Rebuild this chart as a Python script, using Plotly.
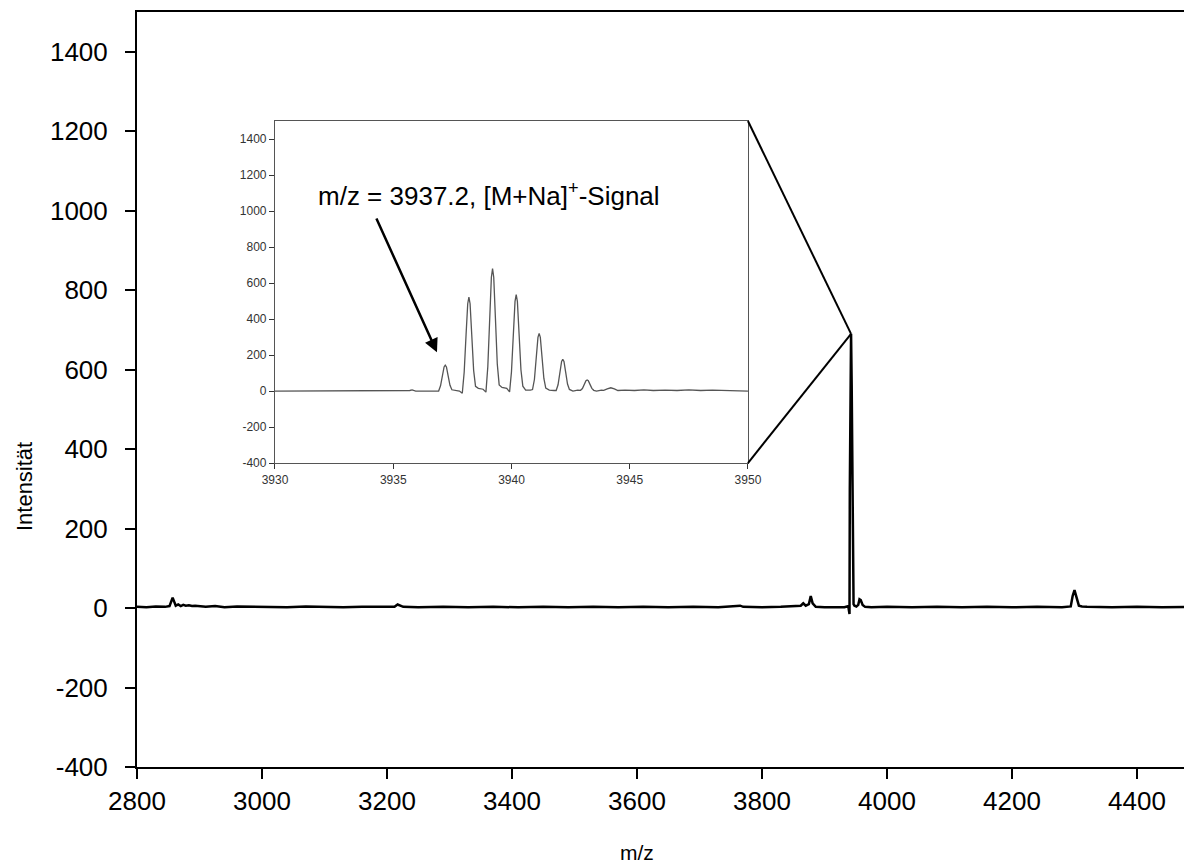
import plotly.graph_objects as go

# ---- main spectrum (m/z vs intensity) ----
mz_main = [2800, 2815, 2830, 2845, 2852, 2855, 2857, 2859, 2862, 2866, 2870, 2874, 2878,
           2883, 2888, 2893, 2900, 2910, 2925, 2940, 2960, 2985, 3010, 3040, 3070, 3100,
           3130, 3160, 3190, 3212, 3217, 3220, 3226, 3250, 3290, 3330, 3370, 3410, 3450,
           3490, 3530, 3570, 3610, 3650, 3690, 3730, 3760, 3765, 3770, 3800, 3830, 3850,
           3862, 3866, 3870, 3875, 3878, 3881, 3886, 3900, 3920, 3932, 3938, 3940, 3940.5,
           3941, 3942.5, 3943.5, 3944.5, 3945.5, 3946.5, 3948, 3951, 3954, 3956, 3958, 3961,
           3965, 3975, 4000, 4040, 4080, 4120, 4160, 4200, 4240, 4280, 4294, 4297, 4300,
           4303, 4307, 4312, 4320, 4360, 4400, 4440, 4488]
int_main = [3, 2, 4, 3, 5, 20, 26, 18, 6, 9, 5, 8, 6,
            7, 5, 6, 4, 3, 5, 2, 4, 3, 3, 2, 4, 3,
            2, 3, 2, 3, 9, 7, 3, 2, 3, 2, 3, 2, 3,
            2, 3, 2, 3, 2, 3, 2, 4, 6, 3, 2, 3, 4,
            6, 12, 6, 10, 30, 12, 3, 2, 3, 2, 5, -15, 300,
            520, 690, 560, 300, 60, 10, 6, 4, 8, 22, 20, 8,
            3, 2, 3, 2, 3, 2, 3, 2, 3, 2, 4, 30, 45,
            28, 6, 4, 3, 2, 3, 2, 3]

# ---- zoomed isotope pattern (inset) ----
mz_zoom = [3930.0, 3935.5, 3935.7, 3935.8, 3935.95, 3936.8,
           3936.92, 3937.0, 3937.08, 3937.15, 3937.2, 3937.25, 3937.32, 3937.4, 3937.48,
           3937.6, 3937.8,
           3937.92, 3938.0, 3938.08, 3938.15, 3938.2, 3938.25, 3938.32, 3938.4, 3938.48,
           3938.6, 3938.8,
           3938.92, 3939.0, 3939.08, 3939.15, 3939.2, 3939.25, 3939.32, 3939.4, 3939.48,
           3939.6, 3939.8,
           3939.92, 3940.0, 3940.08, 3940.15, 3940.2, 3940.25, 3940.32, 3940.4, 3940.48,
           3940.6, 3940.8,
           3940.89, 3940.97, 3941.05, 3941.12, 3941.17, 3941.22, 3941.29, 3941.37, 3941.45,
           3941.6, 3941.8,
           3941.89, 3941.97, 3942.05, 3942.12, 3942.17, 3942.22, 3942.29, 3942.37, 3942.45,
           3942.6, 3942.8,
           3942.92, 3943.0, 3943.08, 3943.15, 3943.2, 3943.25, 3943.32, 3943.4, 3943.48,
           3943.6, 3943.8,
           3943.9, 3944.05, 3944.2, 3944.35, 3944.5,
           3944.8, 3945.2, 3945.6, 3946.0, 3946.5, 3947.0, 3947.5, 3948.0, 3948.5, 3949.0,
           3949.5, 3950.0]
int_zoom = [0, 0, 3, 6, 0, 0,
            0, 29, 86, 134, 144, 134, 86, 32, 7,
            5, 0,
            -12, 104, 313, 485, 522, 485, 313, 115, 26,
            15, 10,
            -6, 136, 408, 632, 680, 632, 408, 150, 34,
            20, 15,
            -5, 107, 321, 498, 535, 498, 321, 118, 27,
            5, 5,
            8, 64, 192, 298, 320, 298, 192, 70, 16,
            5, 3,
            3, 35, 106, 164, 176, 164, 106, 39, 9,
            0, 5,
            4, 14, 37, 57, 61, 57, 37, 15, 4,
            0, 5,
            4, 12, 18, 12, 3,
            5, 3, 6, 3, 5, 3, 6, 3, 5, 3,
            5, 0]

y_ticks = [-400, -200, 0, 200, 400, 600, 800, 1000, 1200, 1400]
y_tick_text = ["-400", "-200", "0", "200", "400", "600", "800", "1000", "1200", "1400"]
x_ticks_main = [2800, 3000, 3200, 3400, 3600, 3800, 4000, 4200, 4400]
x_ticks_zoom = [3930, 3935, 3940, 3945, 3950]

X_RANGE = [2800, 4488]
Y_RANGE = [-400, 1500]
INSET_X = [0.1308, 0.5791]
INSET_Y = [0.4026, 0.8556]

FONT = "Arial, Liberation Sans, sans-serif"

fig = go.Figure()
fig.add_trace(go.Scatter(x=mz_main, y=int_main, mode="lines",
                         line=dict(color="black", width=2.5), showlegend=False,
                         xaxis="x", yaxis="y"))
fig.add_trace(go.Scatter(x=mz_zoom, y=int_zoom, mode="lines",
                         line=dict(color="#555555", width=1.3), showlegend=False,
                         xaxis="x2", yaxis="y2"))

# connector lines from inset corners to the main peak apex
imax = int_main.index(max(int_main))
px, py = mz_main[imax], int_main[imax]
cx = X_RANGE[0] + INSET_X[1] * (X_RANGE[1] - X_RANGE[0])
cy_top = Y_RANGE[0] + INSET_Y[1] * (Y_RANGE[1] - Y_RANGE[0])
cy_bot = Y_RANGE[0] + INSET_Y[0] * (Y_RANGE[1] - Y_RANGE[0])
for cy in (cy_top, cy_bot):
    fig.add_shape(type="line", xref="x", yref="y", x0=cx, y0=cy, x1=px, y1=py,
                  line=dict(color="black", width=2))

# annotation in inset
fig.add_annotation(xref="x2", yref="y2", x=3939.05, y=1093, showarrow=False,
                   text="m/z = 3937.2, [M+Na]<sup>+</sup>-Signal",
                   font=dict(family=FONT, size=26, color="black"))
fig.add_annotation(xref="x2", yref="y2", axref="x2", ayref="y2",
                   x=3936.85, y=215, ax=3934.26, ay=967, text="",
                   showarrow=True, arrowhead=2, arrowsize=1.1, arrowwidth=2.5,
                   arrowcolor="black")

# axis titles
fig.add_annotation(xref="paper", yref="paper", x=0.474, y=-0.1139, text="m/z",
                   showarrow=False, xanchor="center", yanchor="middle",
                   font=dict(family=FONT, size=21, color="black"))
fig.add_annotation(xref="paper", yref="paper", x=-0.106, y=0.371, text="Intensität",
                   showarrow=False, xanchor="center", yanchor="middle", textangle=-90,
                   font=dict(family=FONT, size=22, color="black"))

fig.update_layout(
    width=1184, height=859,
    margin=dict(l=129, r=0, t=4, b=100, autoexpand=False),
    paper_bgcolor="white", plot_bgcolor="white",
    font=dict(family=FONT, color="black"),
    xaxis=dict(range=X_RANGE, tickvals=x_ticks_main, showgrid=False, zeroline=False,
               showline=True, linecolor="black", linewidth=2, mirror=True,
               ticks="outside", ticklen=10, tickwidth=2, tickcolor="black",
               tickfont=dict(size=26), automargin=False),
    yaxis=dict(range=Y_RANGE, tickvals=y_ticks, ticktext=y_tick_text, showgrid=False,
               zeroline=False, showline=True, linecolor="black", linewidth=2,
               ticks="outside", ticklen=10, tickwidth=2, tickcolor="black",
               tickfont=dict(size=26), ticklabelstandoff=12, automargin=False),
    xaxis2=dict(domain=INSET_X, anchor="y2", range=[3930, 3950], tickvals=x_ticks_zoom,
                showgrid=False, zeroline=False, showline=True, linecolor="#555555",
                linewidth=1.2, mirror=True, ticks="outside", ticklen=5, tickcolor="#333333",
                tickfont=dict(size=12, color="#333333"), automargin=False),
    yaxis2=dict(domain=INSET_Y, anchor="x2", range=Y_RANGE, tickvals=y_ticks,
                ticktext=y_tick_text, showgrid=False, zeroline=False, showline=True,
                linecolor="#555555", linewidth=1.2, mirror=True, ticks="outside", ticklen=5,
                tickcolor="#333333", tickfont=dict(size=12, color="#333333"), automargin=False),
)

fig.write_html("out.html")
